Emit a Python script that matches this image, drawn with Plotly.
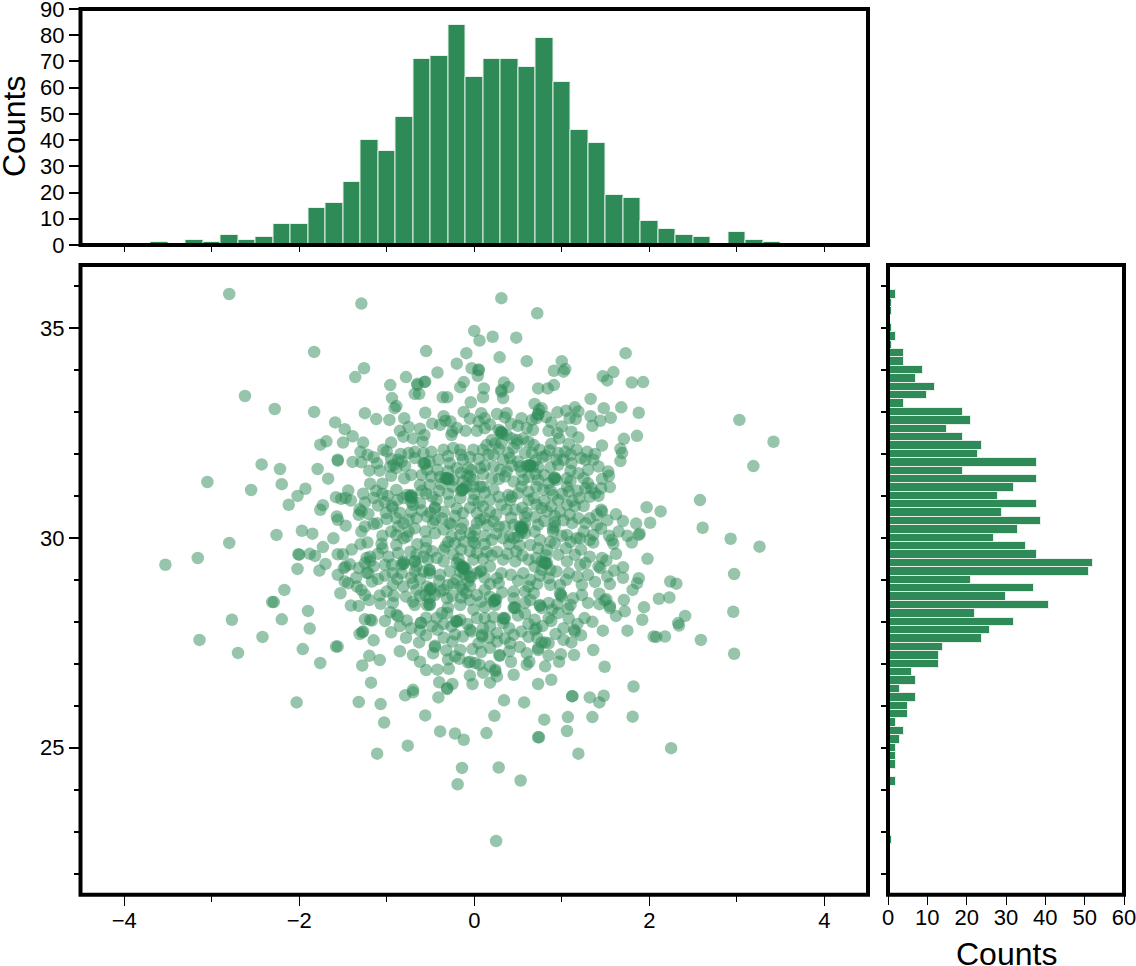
import plotly.graph_objects as go

top_bin_centers = [-4.4,-4.2,-4.0,-3.8,-3.6,-3.4,-3.2,-3.0,-2.8,-2.6,-2.4,-2.2,-2.0,-1.8,-1.6,-1.4,-1.2,-1.0,-0.8,-0.6,-0.4,-0.2,0.0,
                   0.2,0.4,0.6,0.8,1.0,1.2,1.4,1.6,1.8,2.0,2.2,2.4,2.6,2.8,3.0,3.2,3.4,3.6,3.8,4.0,4.2,4.4]
top_counts = [0,0,0,0,1,0,2,1,4,2,3,8,8,14,16,24,40,36,49,71,72,84,64,
              71,71,68,79,62,44,39,19,18,9,6,4,3,0,5,2,1,0,0,0,0,0]
right_bin_centers = [35.8,35.6,35.4,35.2,35.0,34.8,34.6,34.4,34.2,34.0,33.8,33.6,33.4,33.2,33.0,32.8,32.6,32.4,32.2,32.0,
                     31.8,31.6,31.4,31.2,31.0,30.8,30.6,30.4,30.2,30.0,29.8,29.6,29.4,29.2,29.0,28.8,28.6,28.4,28.2,28.0,
                     27.8,27.6,27.4,27.2,27.0,26.8,26.6,26.4,26.2,26.0,25.8,25.6,25.4,25.2,25.0,24.8,24.6,24.4,24.2,24.0,
                     23.8,23.6,23.4,23.2,23.0,22.8]
right_counts = [2,1,1,0,1,2,1,4,4,9,7,12,10,4,19,21,15,19,24,23,
                38,19,38,32,28,38,29,39,33,27,35,38,52,51,21,37,30,41,22,32,
                26,24,14,13,13,6,7,3,7,5,5,2,4,3,2,2,2,0,2,0,
                0,0,0,0,0,1]

points = [
(-2.80,35.81),(-1.29,35.58),(0.31,35.71),(0.00,34.93),(0.21,34.79),(0.06,34.70),(0.48,34.77),(-1.83,34.43),(-0.55,34.45),(-0.09,34.40),
(0.29,34.30),(-1.26,34.04),(-1.36,33.83),(-0.20,34.15),(-0.42,33.94),(-0.78,33.83),(-0.96,33.64),(-0.65,33.64),(-0.57,33.71),(-0.56,33.72),
(-0.03,34.04),(0.05,34.01),(0.05,33.99),(0.04,33.86),(-0.12,33.71),(-0.16,33.59),(0.11,33.56),(0.34,33.70),(0.39,33.59),(0.31,33.52),
(0.72,35.35),(0.60,34.21),(1.00,34.21),(0.91,33.98),(1.04,34.02),(1.02,33.96),(1.73,34.40),(1.59,33.95),(1.47,33.85),(1.52,33.75),
(1.80,33.70),(1.93,33.71),(0.73,33.56),(0.84,33.56),(0.91,33.64),
(-2.28,33.07),(-1.83,33.00),(-1.59,32.75),(-1.48,32.59),(-1.39,32.42),(-1.25,32.97),(-1.12,32.83),(-0.97,32.81),(-0.94,33.33),(-0.89,33.14),
(-0.91,33.09),(-0.80,32.85),(-0.75,32.64),(-0.68,33.43),(-0.63,33.43),(-0.65,33.67),(-0.56,32.98),(-0.36,33.35),(-0.31,33.35),(-0.12,33.00),
(-0.04,33.23),(-0.35,32.90),(-0.33,32.79),(-0.27,32.77),(-0.39,32.69),(-0.25,32.53),(-0.26,32.45),(-0.10,32.55),(0.03,32.55),(-0.81,32.41),
(-0.70,32.37),(-0.57,32.45),(-0.59,32.29),(-0.95,32.27),(-1.04,32.10),(-1.27,32.27),(-1.50,32.27),(-1.69,32.30),(-1.76,32.22),(-1.56,31.86),
(-1.56,31.84),(-1.39,31.81),(-1.29,31.80),(-1.11,31.78),(-1.08,31.60),(-2.43,31.75),(-2.22,31.64),(-1.79,31.64),(-1.67,31.41),(-2.20,31.28),
(-1.93,31.17),(-2.02,31.00),(-2.12,30.79),(-1.19,31.29),(-1.05,31.29),(-1.44,31.13),(-1.58,30.97),(-1.52,30.93),(-1.47,30.95),(-1.41,30.89),
(-1.27,31.05),(-1.25,30.84),(-1.31,30.68),(-1.29,30.63),(-1.32,30.55),(-1.21,30.57),(-1.73,30.78),(-1.76,30.67),(-1.57,30.51),(-1.56,30.43),
(-1.47,30.29),(-1.10,30.77),(-0.99,31.00),(-0.89,31.14),(-0.94,30.76),(-0.93,30.71),(-1.01,30.59),(-1.11,30.35),(-1.15,30.33),(-1.25,30.27),
(-1.29,30.15),(-1.97,30.17),(-1.85,30.10),(-2.26,30.07),(-1.61,29.99),
(-0.92,31.74),(-0.87,31.86),(-0.83,31.82),(-0.79,31.71),(-0.89,31.66),(-0.96,31.70),(-0.84,32.00),(-0.75,32.02),(-0.68,32.05),(-0.68,31.90),
(-0.58,32.02),(-0.56,31.78),(-0.51,31.82),(-0.49,32.05),(-0.41,31.86),(-0.35,32.10),(-0.54,31.62),(-0.28,31.78),(-0.24,32.14),(-0.16,32.10),
(-0.01,32.10),(-0.13,31.86),(-0.07,31.66),(-0.03,31.62),(-0.20,31.66),(-0.60,31.50),(-0.49,31.46),(-0.39,31.45),(-0.33,31.42),(-0.30,31.42),
(-0.24,31.38),(-0.13,31.34),(-0.09,31.22),(-0.14,31.14),(-0.01,31.22),(-0.62,31.26),(-0.51,31.26),(-0.77,31.02),(-0.72,31.02),(-0.72,30.86),
(-0.70,30.79),(-0.81,30.95),(-0.45,30.71),(-0.43,30.90),(-0.28,30.86),(-0.16,30.95),(-0.01,30.90),(-0.62,30.83),(-0.75,30.43),(-0.81,30.35),
(-0.89,30.47),(-0.87,30.27),(-0.89,30.07),(-0.66,30.47),(-0.54,30.51),(-0.45,30.43),(-0.47,30.35),(-0.37,30.47),(-0.26,30.31),(-0.28,30.35),
(-0.13,30.59),(-0.13,30.35),(0.03,30.59),(0.03,30.35),(-0.68,30.23),(-0.56,30.15),(-0.45,30.11),(-0.26,30.03),(-0.16,30.07),(-0.05,30.11),(-0.77,30.03),
(0.10,33.35),(0.31,33.48),(0.33,33.33),(1.33,33.31),(1.48,33.09),(1.68,33.11),(1.88,32.98),(1.56,32.86),(1.44,32.79),(1.33,32.90),
(1.35,32.67),(1.86,32.43),(1.71,32.36),(1.46,32.20),(1.67,32.12),(1.69,32.02),(1.67,31.83),(1.53,31.58),(1.54,31.48),(1.46,31.40),
(1.55,31.21),(1.42,31.00),(1.97,30.73),(2.13,30.63),(2.01,30.36),(1.85,30.34),(1.62,30.56),(1.46,30.63),(1.45,30.67),(1.89,30.10),
(1.88,30.07),(1.54,30.05),(1.36,30.07),(0.69,33.19),(0.77,33.09),(0.74,33.05),(0.73,32.93),(0.71,32.85),(0.66,32.81),(0.95,32.99),
(1.05,33.03),(1.15,33.11),(1.19,33.01),(1.09,32.85),(1.16,32.83),(0.88,32.75),(1.00,32.65),(0.85,32.55),(0.67,32.57),(0.54,32.85),
(0.50,32.67),(0.37,32.97),(0.35,32.87),(0.26,32.95),(0.08,32.97),(0.12,32.85),(0.05,32.77),(0.12,32.61),(1.11,32.53),(1.19,32.39),
(1.08,32.24),(0.97,32.37),(0.88,32.24),(0.31,32.53),(0.28,32.57),(0.37,32.45),(0.43,32.37),(0.49,32.33),(0.56,32.37),(0.62,32.29),
(0.31,32.25),(0.20,32.33),(0.24,32.25),(0.14,32.21),(0.10,32.10),(0.16,31.98),(0.22,31.98),(0.39,32.02),(0.49,32.25),(0.58,32.02),
(0.68,32.21),(0.75,32.10),(0.66,32.02),(0.33,31.86),(0.41,31.90),(0.07,31.66),(-0.05,31.46),(0.20,31.42),(-0.01,31.38),(0.07,31.22),
(0.10,31.22),(0.52,31.70),(0.60,31.71),(0.64,31.74),(0.67,31.70),(0.73,31.68),(0.54,31.58),(0.87,31.68),(0.96,31.74),(0.94,31.86),
(0.96,32.02),(1.04,32.05),(1.17,32.10),(1.29,32.05),(1.38,32.00),(1.27,31.86),(1.36,31.86),(1.11,31.78),(1.02,31.86),(1.19,31.54),
(1.25,31.42),(1.30,31.30),(1.34,31.18),(1.27,31.18),(1.38,31.06),(1.32,30.98),(1.06,31.42),(0.92,31.42),(0.94,31.38),(1.06,31.22),
(1.08,31.10),(0.85,31.30),(0.87,31.14),(0.73,31.38),(0.71,31.22),(0.79,31.14),(0.56,31.38),(0.54,31.22),(0.45,31.34),(0.35,31.46),
(0.37,31.58),(0.39,31.02),(0.43,30.98),(0.31,30.79),(0.47,30.67),(0.37,30.67),(0.41,30.90),(0.68,30.95),(0.62,30.90),(0.71,30.79),
(0.77,30.71),(0.83,30.63),(0.92,30.52),(0.96,30.90),(1.06,30.79),(1.15,30.75),(1.25,30.76),(1.09,30.55),(1.19,30.47),(1.32,30.47),
(1.27,30.35),(0.50,31.06),(0.10,30.75),(0.07,30.43),(0.12,30.47),(0.22,30.39),(0.28,30.27),(0.35,30.27),(0.45,30.31),(0.52,30.27),
(0.54,30.19),(0.58,30.35),(0.73,30.31),(0.69,30.15),(0.90,30.23),(0.92,30.27),(1.06,30.07),(1.21,29.99),(1.32,29.95),(1.57,29.95),
(0.33,29.99),(0.41,30.03),(0.45,29.99),(0.20,29.95),(0.01,30.19),(-0.01,30.03),
(-1.73,29.78),(-2.01,29.61),(-2.00,29.60),(-1.88,29.62),(-1.82,29.57),(-2.02,29.26),(-1.70,29.38),(-1.77,29.22),(-1.56,29.61),(-1.50,29.61),
(-2.17,28.76),(-2.29,28.47),(-2.31,28.47),(-1.90,28.26),(-2.20,28.06),(-1.88,27.84),(-2.42,27.64),(-1.96,27.35),(-1.56,27.41),(-1.58,27.41),
(-1.76,27.02),(-1.22,29.89),(-1.06,29.86),(-1.05,29.75),(-1.49,29.28),(-1.47,29.32),(-1.56,29.12),(-1.48,28.96),(-1.44,28.92),(-1.42,29.37),
(-1.32,29.28),(-1.23,29.52),(-1.19,29.55),(-1.19,29.44),(-1.25,29.40),(-1.15,29.32),(-1.21,29.16),(-1.23,29.17),(-1.17,28.96),(-1.53,28.68),
(-1.34,28.84),(-1.29,28.76),(-1.25,28.64),(-1.20,28.52),(-1.08,28.63),(-1.07,28.43),(-1.41,28.39),(-1.32,28.38),(-0.93,28.45),(-0.96,28.23),
(-0.89,28.17),(-0.87,28.13),(-1.25,28.06),(-1.17,28.03),(-1.19,28.05),(-1.02,28.02),(-1.27,27.77),(-1.31,27.71),(-1.28,27.75),(-1.15,27.56),
(-1.20,27.19),(-1.08,27.09),(-1.28,26.96),(-1.18,26.55),(-0.70,27.21),(-0.63,27.51),(-0.77,28.03),(-0.72,27.85),(-0.61,27.98),(-0.61,27.97),
(-0.62,27.79),(-0.42,27.81),(-0.68,28.40),(-0.45,27.43),(-0.45,27.40),(-0.47,27.25),(-0.32,27.32),(-0.25,27.53),(-0.16,27.33),(-0.13,27.65),
(-0.05,27.81),(-0.30,27.10),(-0.17,27.12),(-0.05,27.05),(-0.07,27.03),(-0.42,26.86),(-0.29,26.88),(0.01,27.02),(-0.40,26.56),(-0.25,26.52),
(-0.31,26.42),(-0.02,26.52),(-0.70,26.38),(-0.89,29.83),(-0.81,29.99),(-0.87,29.64),(-0.73,29.67),(-0.66,29.60),(-0.58,29.55),(-0.68,29.44),
(-0.81,29.44),(-0.83,29.36),(-0.94,29.36),(-0.93,29.16),(-0.83,29.16),(-0.68,29.20),(-0.66,29.32),(-0.58,29.20),(-0.53,29.48),(-0.43,29.52),
(-0.35,29.71),(-0.33,29.79),(-0.35,29.44),(-0.24,29.60),(-0.22,29.87),(-0.12,29.91),(-0.01,29.91),(-1.02,29.36),(-0.93,28.88),(-0.81,28.84),
(-0.70,28.92),(-0.66,28.76),(-0.51,29.24),(-0.51,29.16),(-0.39,29.12),(-0.20,29.40),(-0.16,29.36),(-0.13,29.32),(-0.09,29.24),(-0.16,29.20),
(-0.11,29.12),(-0.20,29.00),(-0.07,28.96),(0.03,29.16),(-0.01,29.48),(0.03,29.64),(-0.28,29.20),(-0.54,28.84),(-0.49,28.80),(-0.56,28.64),
(-0.51,28.56),(-0.51,28.40),(-0.39,28.72),(-0.35,28.76),(-0.45,28.64),(-0.54,28.40),(-0.37,28.21),(-0.43,28.09),(-0.31,28.21),(-0.16,28.84),
(-0.13,28.76),(-0.09,28.68),(-0.24,28.92),(-0.05,28.52),(-0.16,28.40),(-0.01,28.29),(-0.20,28.01),(-0.16,28.05),(-0.26,27.89),(0.03,28.09),(-0.31,28.56),
(1.98,29.50),(1.80,29.89),(1.59,29.86),(1.36,29.89),(1.46,29.52),(1.51,29.46),(1.44,29.28),(1.88,29.04),(1.86,28.92),(1.81,28.76),
(1.55,28.90),(2.24,28.96),(2.31,28.91),(2.11,28.55),(2.23,28.58),(1.71,28.52),(1.94,28.35),(1.72,28.25),(1.92,28.05),(1.62,28.14),
(1.43,28.67),(1.51,28.54),(1.49,28.51),(1.43,28.42),(1.55,28.33),(1.55,28.38),(2.41,28.14),(2.33,27.97),(2.34,27.91),(2.05,27.65),
(2.08,27.64),(2.18,27.65),(1.26,28.09),(1.47,27.79),(1.75,27.79),(1.36,27.33),(1.49,26.93),(1.82,26.46),(1.23,28.88),(1.23,28.64),
(1.13,28.56),(1.07,28.31),(0.99,28.64),(0.98,28.68),(1.00,28.60),(1.14,27.81),(1.15,27.77),(1.02,27.85),(0.93,27.71),(1.02,27.57),
(1.11,27.51),(1.14,27.21),(0.99,27.23),(0.97,27.05),(0.81,27.51),(0.85,27.49),(0.77,27.51),(0.73,27.37),(0.73,27.33),(0.71,27.85),
(0.69,27.81),(0.63,27.05),(0.60,26.98),(0.81,26.94),(0.45,26.74),(0.73,26.52),(0.29,27.19),(0.29,27.21),(0.24,26.86),(0.24,26.82),
(0.18,26.94),(0.10,26.79),(0.26,26.70),(0.18,26.55),(0.06,26.98),
(0.01,29.87),(0.14,29.67),(0.26,29.67),(0.54,30.13),(0.64,29.83),(0.47,29.44),(0.33,29.48),(0.18,29.32),(0.50,30.03),(0.58,30.11),
(0.90,30.15),(1.17,29.99),(0.92,29.87),(0.87,29.91),(0.73,29.75),(0.83,29.71),(0.96,29.60),(1.06,29.44),(1.21,29.36),(1.27,29.40),
(1.42,29.32),(1.08,29.16),(0.71,29.52),(0.77,29.44),(0.83,29.40),(0.87,29.24),(0.69,29.32),(0.77,29.24),(0.94,29.20),(0.56,29.16),
(0.64,29.00),(0.62,28.84),(0.85,29.04),(0.87,28.88),(0.98,28.88),(0.45,28.72),(0.45,28.56),(0.58,28.72),(0.64,28.52),(0.75,28.40),
(0.77,28.33),(0.85,28.45),(0.89,28.29),(0.96,28.21),(0.85,28.09),(0.47,28.33),(0.35,28.09),(0.33,27.97),(0.22,28.48),(0.18,28.60),
(0.24,28.40),(0.26,29.04),(0.28,28.92),(0.31,29.16),(0.12,28.76),(0.03,28.64),(0.69,28.05),(0.54,27.77),(0.62,27.64),(0.41,27.49),
(0.45,27.69),(0.26,27.73),(0.26,27.53),(0.09,27.69),(0.09,27.65),(0.05,27.49),(-0.03,27.77),(0.10,27.85),(0.12,28.09),(0.22,28.11),
(-2.03,26.08),(-1.32,26.09),(-1.07,26.04),(-0.79,26.25),(-0.70,26.32),(-0.41,26.20),(-0.31,26.40),(0.34,26.13),(0.57,26.08),(1.12,26.23),
(1.12,26.23),(1.32,26.20),(1.48,26.24),(1.43,26.08),(1.81,25.74),(1.35,25.73),(1.07,25.73),(0.80,25.67),(0.23,25.76),(-0.56,25.77),
(-1.03,25.60),(-0.39,25.39),(-0.22,25.34),(-0.12,25.19),(0.14,25.35),(0.74,25.25),(0.73,25.25),(1.06,25.40),(1.19,24.86),(2.25,24.99),
(-0.76,25.05),(-1.11,24.86),(-0.14,24.52),(0.28,24.53),(0.53,24.22),(-0.19,24.13),(0.25,22.78),
(-3.53,29.36),(-3.16,29.52),(-3.14,27.57),(-3.05,31.33),(-2.80,29.88),(-2.77,28.05),(-2.70,27.26),(-2.62,33.38),(-2.55,31.14),
(2.97,29.14),(2.97,27.24),(2.96,28.24),(2.93,29.98),(3.26,29.79),(2.58,30.90),(2.61,30.24),(3.03,32.81),(3.42,32.29),(3.19,31.71),(2.59,27.57),
# dense core, read more coarsely
(-0.20,32.62),(-0.05,32.84),(0.18,32.70),(0.42,32.72),(0.60,32.62),(0.82,32.88),(-0.48,32.72),(-0.62,32.60),(-0.85,32.55),(0.95,32.50),
(-1.15,31.92),(-1.00,32.06),(-0.95,31.88),(-0.15,31.98),(-0.30,31.95),(-0.05,31.92),(0.05,31.88),(0.28,32.12),(0.45,32.14),(0.82,31.96),
(0.86,32.08),(1.10,31.98),(1.22,31.90),(0.70,31.85),(0.78,31.92),(0.50,31.82),(-1.22,31.98),(-1.30,32.05),
(0.12,31.72),(0.22,31.70),(0.30,31.62),(0.43,31.72),(0.80,31.50),(0.70,31.52),(0.62,31.45),(1.10,31.60),(1.30,31.62),(1.42,31.70),
(1.10,31.35),(-0.42,31.62),(-0.30,31.58),(-0.72,31.50),(-0.80,31.42),(-0.95,31.48),(-1.20,31.60),(-0.15,31.55),(-0.08,31.48),(0.10,31.52),(0.28,31.40),
(-0.31,31.40),(-0.32,31.42),(-0.29,31.39),(-0.72,30.98),(-0.71,30.95),(-0.73,31.00),(-0.13,31.14),(-0.12,31.18),(-0.15,31.12),(-0.45,30.72),
(-0.58,31.78),(-0.57,31.76),(0.64,31.72),(0.63,31.70),(0.62,31.73),(0.31,32.50),(0.30,32.52),(0.32,32.48),(0.73,32.95),(0.92,31.44),(0.91,31.41),
(-0.40,31.12),(-0.30,31.05),(-0.55,31.05),(-0.48,30.98),(-0.60,31.12),(-0.88,30.90),(-1.02,30.85),(0.00,31.05),(0.12,31.08),(0.22,31.15),
(0.28,30.98),(0.18,30.90),(0.05,30.85),(0.62,31.10),(0.90,31.02),(1.00,31.05),(1.18,31.12),(1.20,30.95),(1.45,31.18),(1.12,30.88),
(0.80,30.88),(-1.05,31.05),(-1.15,30.95),(-1.12,31.12),(-0.25,31.22),(-0.38,31.28),
(-0.60,30.65),(-0.50,30.60),(-0.35,30.62),(-0.20,30.70),(-0.05,30.72),(-0.22,30.52),(0.18,30.62),(0.25,30.55),(0.55,30.72),(0.60,30.60),
(0.70,30.50),(0.58,30.50),(0.42,30.48),(0.88,30.75),(0.98,30.62),(1.02,30.42),(1.12,30.35),(1.40,30.55),(1.52,30.42),(1.40,30.30),
(1.70,30.40),(-0.72,30.62),(-0.85,30.60),(-1.00,30.45),(0.15,30.30),(0.80,30.40),(0.92,30.38),(0.54,30.24),(0.53,30.26),(0.55,30.22),(0.56,30.25),
(-0.95,30.15),(-1.05,30.05),(-0.75,30.15),(-0.35,30.20),(-0.15,30.22),(-0.30,29.90),(-0.55,29.92),(-0.65,29.85),(-1.30,29.85),(-1.40,29.72),
(0.12,30.05),(0.25,30.10),(0.12,29.85),(0.40,29.85),(0.52,29.82),(0.75,29.95),(1.00,30.05),(1.10,29.90),(1.25,30.15),(1.45,30.22),
(1.65,30.15),(1.75,30.05),(1.05,29.75),(1.22,29.72),
(-1.10,29.62),(-0.98,29.55),(-0.15,29.72),(-0.05,29.68),(-0.18,29.50),(-0.48,29.68),(-0.55,29.75),(0.10,29.50),(0.20,29.58),(0.38,29.62),
(0.48,29.68),(0.55,29.58),(0.62,29.48),(0.82,29.58),(1.15,29.60),(1.32,29.55),(1.62,29.62),(1.70,29.30),(1.60,29.22),
(0.81,29.40),(0.80,29.42),(0.82,29.38),(-0.13,29.28),(-0.12,29.26),(-0.14,29.30),(-0.11,29.29),(-0.68,29.44),(-0.81,29.38),(-0.80,29.40),
(-0.51,29.22),(0.07,29.20),(0.08,29.22),
(-1.02,29.10),(-1.10,29.02),(-0.88,29.02),(-0.72,29.05),(-0.62,29.02),(-0.40,28.98),(-0.30,28.88),(-0.05,28.85),(0.12,29.05),(0.18,28.90),
(0.42,29.12),(0.50,28.98),(0.72,28.90),(0.75,29.10),(1.05,29.00),(1.18,29.08),(1.30,29.12),(1.38,28.95),(1.52,29.08),(1.70,29.05),
(-0.05,29.08),(-0.04,29.06),(-1.35,29.05),
(-1.00,28.72),(-0.92,28.62),(-0.78,28.60),(-0.70,28.48),(-0.62,28.62),(-0.51,28.76),(-0.50,28.78),(-0.51,28.42),(-0.25,28.62),(-0.15,28.58),
(0.08,28.48),(0.12,28.35),(0.24,28.52),(0.25,28.54),(0.23,28.50),(0.32,28.70),(0.58,28.45),(0.68,28.68),(0.75,28.38),(0.95,28.42),
(1.10,28.40),(1.30,28.45),(0.45,28.33),(0.46,28.35),(-0.30,28.35),
(-0.85,27.90),(-0.95,27.75),(-0.55,28.10),(-0.48,27.90),(-0.35,27.95),(-0.20,28.00),(-0.21,28.02),(-0.08,27.95),(0.18,27.90),(0.33,28.09),
(0.34,28.07),(0.40,27.85),(0.50,28.15),(0.62,27.95),(0.58,28.20),(0.78,27.90),(0.88,28.02),(1.08,28.08),(1.18,27.95),(1.35,28.00),
(1.22,27.68),(0.72,27.62),(0.35,27.60),(0.17,27.62),(-0.22,27.70),(-0.35,27.62),(-0.55,27.68),(-0.78,27.62),
(-0.02,27.35),(0.08,27.28),(0.18,27.38),(0.40,27.30),(0.52,27.40),(0.60,27.25),(0.85,27.20),(-0.22,27.18),(-0.62,27.05),(-0.55,26.85),
(-0.05,26.72),(0.42,27.05),(0.88,26.62),(-0.85,27.30),
]
scatter_x = [p[0] for p in points]
scatter_y = [p[1] for p in points]

W, H = 1136, 966
GREEN = "#2E8B57"
FONT = "Liberation Sans"
def dx(a, b): return [a / W, b / W]
def dy(top, bottom): return [1 - bottom / H, 1 - top / H]

fig = go.Figure()
fig.add_trace(go.Scatter(x=scatter_x, y=scatter_y, mode="markers", xaxis="x", yaxis="y",
                         marker=dict(color=GREEN, size=12.5, opacity=0.5, line=dict(width=0)), showlegend=False))
fig.add_trace(go.Bar(x=top_bin_centers, y=top_counts, width=0.2, xaxis="x2", yaxis="y2",
                     marker=dict(color=GREEN, line=dict(color="#E4F0E9", width=1)), showlegend=False))
fig.add_trace(go.Bar(x=right_counts, y=right_bin_centers, width=0.2, orientation="h", xaxis="x3", yaxis="y3",
                     marker=dict(color=GREEN, line=dict(color="#E4F0E9", width=1)), showlegend=False))

tick = dict(color="black", size=22, family=FONT)
base = dict(showgrid=False, zeroline=False, showline=False, ticks="outside", tickcolor="black", tickfont=tick,
            automargin=False, ticklabeloverflow="allow")
title_font = dict(size=32, family=FONT, color="black")

layout = dict(
    width=W, height=H, margin=dict(l=0, r=0, t=0, b=0), autosize=False,
    paper_bgcolor="white", plot_bgcolor="white", font=dict(family=FONT, color="black"), bargap=0,
    xaxis=dict(base, domain=dx(80.5, 868), range=[-4.5, 4.5], anchor="y", tick0=0, dtick=2, ticklen=10.5, tickwidth=1.2,
               ticklabelstandoff=-5,
               minor=dict(dtick=1, tick0=0, ticks="outside", ticklen=6, tickwidth=1.2, tickcolor="black", showgrid=False)),
    yaxis=dict(base, domain=dy(265, 894.7), range=[21.5, 36.5], anchor="x", tick0=0, dtick=5, ticklen=10.5, tickwidth=1.8,
               minor=dict(dtick=1, tick0=0, ticks="outside", ticklen=6, tickwidth=1.8, tickcolor="black", showgrid=False)),
    xaxis2=dict(base, domain=dx(80.5, 868), range=[-4.5, 4.5], anchor="y2", tick0=0, dtick=1, ticklen=6, tickwidth=1.2, showticklabels=False),
    yaxis2=dict(base, domain=dy(9, 245), range=[0, 90], anchor="x2", tick0=0, dtick=10, ticklen=10.5, tickwidth=1.8),
    xaxis3=dict(base, domain=dx(888, 1124), range=[0, 60], anchor="y3", tick0=0, dtick=10, ticklen=9, tickwidth=1.2,
                ticklabelstandoff=-6),
    yaxis3=dict(base, domain=dy(265, 894.7), range=[21.5, 36.5], anchor="x3", tick0=0, dtick=1, ticklen=6, tickwidth=1.8, showticklabels=False),
    shapes=[dict(type="rect", xref=f"x{s} domain", yref=f"y{s} domain", x0=0, x1=1, y0=0, y1=1,
                 line=dict(color="black", width=4), fillcolor="rgba(0,0,0,0)", layer="above") for s in ["", "2", "3"]],
    annotations=[
        dict(text="Counts", xref="paper", yref="paper", x=14 / W, y=1 - 127 / H, textangle=-90,
             xanchor="center", yanchor="middle", showarrow=False, font=title_font),
        dict(text="Counts", xref="paper", yref="paper", x=1006 / W, y=1 - 954 / H,
             xanchor="center", yanchor="middle", showarrow=False, font=title_font),
    ],
)
fig.update_layout(**layout)
fig.write_html("out.html", config=dict(displayModeBar=False),
               post_script="document.body.style.margin='0';document.body.style.overflow='hidden';")
